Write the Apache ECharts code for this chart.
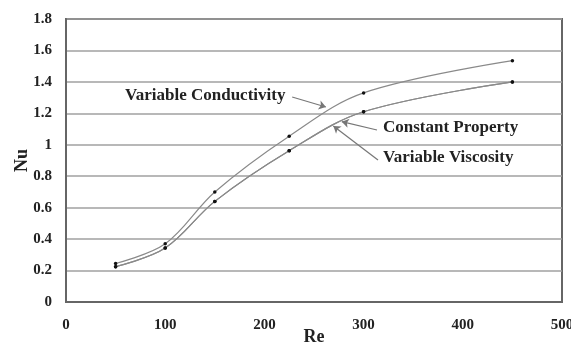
<!DOCTYPE html>
<html>
<head>
<meta charset="utf-8">
<script src="https://cdn.jsdelivr.net/npm/echarts@6/dist/echarts.min.js"></script>
<style>html,body{margin:0;padding:0;background:#fff}#c{width:571px;height:348px}</style>
</head>
<body>
<div id="c"></div>
<script>
const reValues = [50, 100, 150, 225, 300, 450];
const nuVariableConductivity = [0.245, 0.37, 0.70, 1.055, 1.33, 1.535];
const nuConstantProperty = [0.225, 0.343, 0.64, 0.962, 1.21, 1.40];
const nuVariableViscosity = [0.225, 0.343, 0.64, 0.962, 1.21, 1.40];
const xTicks = [0, 100, 200, 300, 400, 500];
const yTicks = [0, 0.2, 0.4, 0.6, 0.8, 1, 1.2, 1.4, 1.6, 1.8];

// annotation arrows: [label, textAnchor(data), arrowStart(data), arrowEnd(data)]
const annLabels = ['Variable Conductivity', 'Constant Property', 'Variable Viscosity'];
const annText = [[59.5, 1.31], [319.5, 1.107], [319.5, 0.916]];
const annFrom = [[228, 1.304], [313.5, 1.094], [314.5, 0.903]];
const annTo = [[262, 1.24], [278, 1.147], [269.5, 1.12]];

const font = '"Liberation Serif", "Times New Roman", serif';
const chart = echarts.init(document.getElementById('c'));

function pairs(xs, ys) { return xs.map((x, i) => [x, ys[i]]); }

const lineStyle = { color: '#8a8a8a', width: 1.2 };
const itemStyle = { color: '#111' };

chart.setOption({
  animation: false,
  backgroundColor: '#fff',
  grid: { left: 66, right: 9, top: 19, bottom: 46, show: true, borderColor: '#666', borderWidth: 2,
    containLabel: false, outerBoundsMode: 'none' },
  xAxis: {
    type: 'value', min: 0, max: 500, interval: 100,
    name: 'Re', nameLocation: 'middle', nameGap: 26, nameMoveOverlap: false,
    nameTextStyle: { fontFamily: font, fontWeight: 'bold', fontSize: 18, color: '#222' },
    axisLine: { show: true, lineStyle: { color: '#666', width: 2 } },
    axisTick: { show: false },
    splitLine: { show: false },
    axisLabel: { fontFamily: font, fontWeight: 'bold', fontSize: 15, color: '#222', margin: 16 }
  },
  yAxis: {
    type: 'value', min: 0, max: 1.8, interval: 0.2,
    name: 'Nu', nameLocation: 'middle', nameGap: 35, nameRotate: 90, nameMoveOverlap: false,
    nameTextStyle: { fontFamily: font, fontWeight: 'bold', fontSize: 18, color: '#222' },
    axisLine: { show: true, lineStyle: { color: '#666', width: 2 } },
    axisTick: { show: false },
    splitLine: { show: true, lineStyle: { color: '#a0a0a0', width: 1.5 } },
    axisLabel: { fontFamily: font, fontWeight: 'bold', fontSize: 15, color: '#222', margin: 14,
      formatter: v => { const t = yTicks.find(k => Math.abs(k - v) < 1e-6); return String(t !== undefined ? t : v); } }
  },
  series: [
    { name: 'Variable Conductivity', type: 'line', smooth: 0.35, data: pairs(reValues, nuVariableConductivity),
      symbol: 'circle', symbolSize: 3.5, lineStyle, itemStyle, z: 3 },
    { name: 'Constant Property', type: 'line', smooth: 0.35, data: pairs(reValues, nuConstantProperty),
      symbol: 'circle', symbolSize: 3.5, lineStyle, itemStyle, z: 3 },
    { name: 'Variable Viscosity', type: 'line', smooth: 0.35, data: pairs(reValues, nuVariableViscosity),
      symbol: 'circle', symbolSize: 3.5, lineStyle, itemStyle, z: 3 },
    { type: 'line', data: [], silent: true,
      markLine: {
        silent: true, animation: false,
        symbol: ['none', 'arrow'], symbolSize: [7, 7],
        lineStyle: { color: '#777', width: 1.2, type: 'solid' },
        label: { show: false },
        data: annFrom.map((f, i) => [{ coord: f }, { coord: annTo[i] }])
      }
    }
  ]
});

const g = annLabels.map((t, i) => {
  const p = chart.convertToPixel({ gridIndex: 0 }, annText[i]);
  return { type: 'text', x: p[0], y: p[1], style: { text: t, font: 'bold 17px ' + font, fill: '#222', textVerticalAlign: 'middle', textAlign: 'left' }, z: 10 };
});
chart.setOption({ graphic: g });
</script>
</body>
</html>
